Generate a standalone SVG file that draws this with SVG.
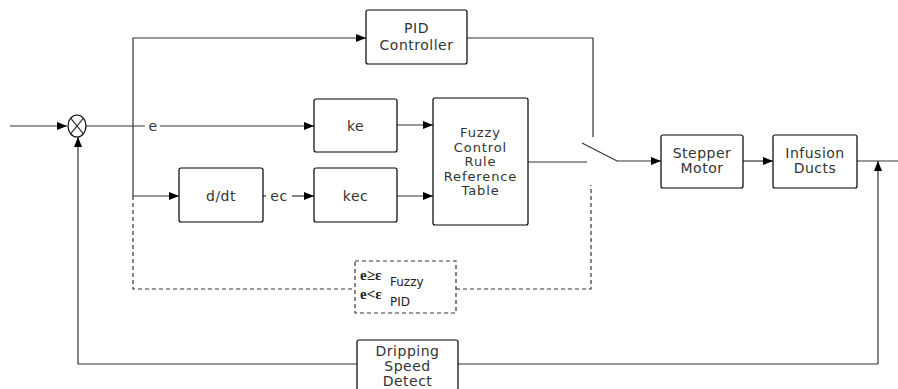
<svg xmlns="http://www.w3.org/2000/svg" width="898" height="389" viewBox="0 0 898 389">
<defs>
<marker id="arr" markerWidth="10" markerHeight="8" refX="10" refY="4" orient="auto" markerUnits="userSpaceOnUse">
<path d="M0,0 L10,4 L0,8 Z" fill="#000"/>
</marker>
<style>
.box{fill:#fff;stroke:#000;stroke-width:1.2}
.ln{fill:none;stroke:#333;stroke-width:1.2}
.dash{fill:none;stroke:#333;stroke-width:1.2;stroke-dasharray:4,3}
.t{font-family:"DejaVu Sans","Liberation Sans",sans-serif;font-size:14px;letter-spacing:0.5px;fill:#333;text-anchor:middle}
.f{font-size:13px;letter-spacing:0.9px}
.s{font-family:"Liberation Serif",serif;font-size:15px;font-weight:bold;fill:#222}
.sub{font-family:"DejaVu Sans","Liberation Sans",sans-serif;font-size:12px;fill:#222}
</style>
</defs>
<rect width="898" height="389" fill="#fff"/>
<g id="connectors">
<path class="ln" d="M10,126 H67" marker-end="url(#arr)"/>
<path class="ln" d="M86,126 H145"/>
<path class="ln" d="M160,126 H314" marker-end="url(#arr)"/>
<path class="ln" d="M133,196 V38 H366" marker-end="url(#arr)"/>
<path class="ln" d="M133,196 H179" marker-end="url(#arr)"/>
<path class="ln" d="M263,196 H266"/>
<path class="ln" d="M292,196 H314" marker-end="url(#arr)"/>
<path class="ln" d="M397,125 H433" marker-end="url(#arr)"/>
<path class="ln" d="M397,196 H433" marker-end="url(#arr)"/>
<path class="ln" d="M467,38 H593 V137"/>
<path class="ln" d="M528,162 H587"/>
<path class="ln" d="M582,143 L617,161 H661" marker-end="url(#arr)"/>
<path class="ln" d="M743,161 H773" marker-end="url(#arr)"/>
<path class="ln" d="M857,161 H898"/>
<path class="ln" d="M878,364 V161" marker-end="url(#arr)"/>
<path class="ln" d="M878,364 H78 V137" marker-end="url(#arr)"/>
<path class="dash" d="M133,196 V289 H355"/>
<path class="dash" d="M456,289 H591 V185"/>
<text class="t" x="153" y="131">e</text>
<text class="t" x="279" y="201">ec</text>
</g>
<g id="sum">
<ellipse cx="77" cy="126" rx="9" ry="11" fill="#fff" stroke="#000" stroke-width="1.2"/>
<path class="ln" d="M70.6,118.2 L83.4,133.8 M83.4,118.2 L70.6,133.8"/>
</g>
<g id="pid">
<rect class="box" x="366" y="10" width="101" height="54" rx="2"/>
<text class="t" x="416.5" y="33">PID</text>
<text class="t" x="416.5" y="50">Controller</text>
</g>
<g id="ke">
<rect class="box" x="314" y="99" width="83" height="53" rx="2"/>
<text class="t" x="355.5" y="131">ke</text>
</g>
<g id="ddt">
<rect class="box" x="179" y="168" width="84" height="54" rx="2"/>
<text class="t" x="221" y="201">d/dt</text>
</g>
<g id="kec">
<rect class="box" x="314" y="168" width="83" height="54" rx="2"/>
<text class="t" x="355.5" y="201">kec</text>
</g>
<g id="fuzzy">
<rect class="box" x="433" y="98" width="95" height="127" rx="2"/>
<text class="t f" x="480.5" y="137">Fuzzy</text>
<text class="t f" x="480.5" y="151.5">Control</text>
<text class="t f" x="480.5" y="166">Rule</text>
<text class="t f" x="480.5" y="180.5">Reference</text>
<text class="t f" x="480.5" y="195">Table</text>
</g>
<g id="stepper">
<rect class="box" x="661" y="135" width="82" height="53" rx="2"/>
<text class="t" x="702" y="158">Stepper</text>
<text class="t" x="702" y="173">Motor</text>
</g>
<g id="infusion">
<rect class="box" x="773" y="135" width="84" height="53" rx="2"/>
<text class="t" x="815" y="158">Infusion</text>
<text class="t" x="815" y="173">Ducts</text>
</g>
<g id="switchcond">
<rect x="355" y="261" width="101" height="52" fill="#fff" class="dash"/>
<text class="s" x="360" y="280">e≥ε</text>
<text class="sub" x="390" y="286">Fuzzy</text>
<text class="s" x="360" y="299">e&lt;ε</text>
<text class="sub" x="390" y="306">PID</text>
</g>
<g id="dripping">
<rect class="box" x="357" y="340" width="101" height="55" rx="2"/>
<text class="t" x="407.5" y="356">Dripping</text>
<text class="t" x="407.5" y="371">Speed</text>
<text class="t" x="407.5" y="386">Detect</text>
</g>
</svg>
